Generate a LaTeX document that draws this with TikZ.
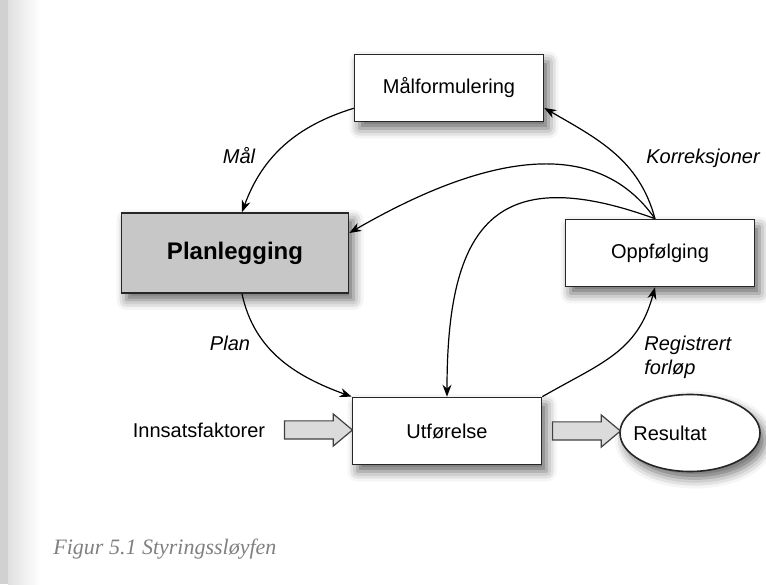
\documentclass[tikz,border=0pt]{standalone}
\usepackage{fontspec}
\setmainfont{Liberation Sans}
\newfontfamily\figfont{Liberation Serif}
\usepackage{tikz}
\usetikzlibrary{arrows.meta}
\usetikzlibrary{shapes}
\usetikzlibrary{shadows.blur}
\tikzset{
  boks/.style = {rectangle, draw=black!85, line width=0.8pt, fill=white,
    minimum width=94.5pt, minimum height=33.5pt,
    blur shadow={shadow xshift=2.5pt, shadow yshift=-3.5pt,
      shadow blur radius=5pt, shadow opacity=60}},% vanlig boks
  hoved/.style = {boks, fill=black!22, minimum width=113.5pt,
    minimum height=40pt, font=\large\bfseries},% planlegging
  tykkpil/.style = {single arrow, draw=black!75, fill=black!14,
    line width=0.6pt, minimum height=34pt, inner xsep=0pt,
    inner ysep=4.25pt, single arrow head extend=3.5pt,
    single arrow tip angle=80},% inn/ut-pil
  flyt/.style = {-{Stealth[length=6pt,width=4.5pt]}, line width=0.6pt},
  etikett/.style = {font=\itshape}
}

\begin{document}
\begin{tikzpicture}[x=0.5pt,y=0.5pt]
\useasboundingbox (0,0) rectangle (766,584);
% sidekant
\fill[black!18] (0,0) rectangle (8,584);
\shade[left color=black!12, right color=white] (8,0) rectangle (40,584);

\node [boks] (maal) at (449,496) {Målformulering};
\node [hoved] (plan) at (235,331) {Planlegging};
\node [boks] (oppf) at (660,331) {Oppfølging};
\node [boks] (utf) at (447,153) {Utførelse};
\node [ellipse, draw=black!85, line width=0.8pt, fill=white,
  minimum width=70pt, minimum height=38.5pt,
  blur shadow={shadow xshift=2.5pt, shadow yshift=-3.5pt,
    shadow blur radius=5pt, shadow opacity=60},
  label={[xshift=-10pt]center:Resultat}] (res) at (690,151) {};

\node (inn) at (199,154) {Innsatsfaktorer};
\node [tykkpil] (pil1) at (313,154) {};
\node [tykkpil] (pil2) at (581,153) {};

\coordinate (fb) at ([xshift=-2.5pt]oppf.north);

\draw[flyt] ([yshift=7pt]maal.south west) to[out=197,in=70] ([xshift=3.5pt]plan.north);
\draw[flyt] ([xshift=3.5pt]plan.south) to[out=-78,in=160] (utf.north west);
\draw[flyt] (utf.north east) to[out=30,in=-105,looseness=1.1] ([xshift=-2.5pt]oppf.south);
\draw[flyt] (fb) to[out=105,in=-30] ([yshift=-10pt]maal.east);
\draw[flyt] (fb) to[out=125,in=30] ([yshift=10pt]plan.east);
\draw[flyt] (fb) to[out=160,in=90,looseness=1.6] (utf.north);

\node [etikett] (lmaal) at (239,428) {Mål};
\node [etikett] (lkorr) at (703,426) {Korreksjoner};
\node [etikett] (lplan) at (230,241) {Plan};
\node [etikett, anchor=west, align=left, inner sep=0pt] (lreg) at (644,227)
  {Registrert\\forløp};

\node [anchor=west, inner sep=0pt, text=black!50,
  font=\figfont\itshape\fontsize{11}{13}\selectfont] (figtekst) at (53,35)
  {Figur 5.1 Styringssløyfen};
\end{tikzpicture}
\end{document}
